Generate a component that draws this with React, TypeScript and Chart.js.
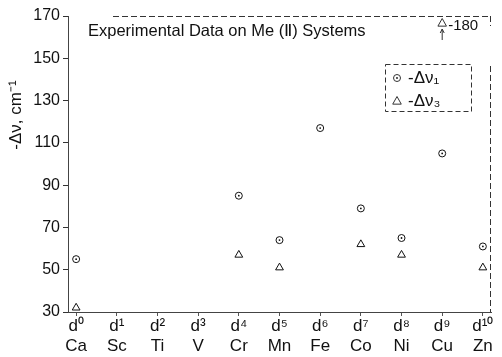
import React, { useEffect, useRef } from "react";
import { Chart, registerables } from "chart.js";

Chart.register(...registerables);

const elements = ["Ca", "Sc", "Ti", "V", "Cr", "Mn", "Fe", "Co", "Ni", "Cu", "Zn"];
const dConfigs = ["d⁰", "d¹", "d²", "d³", "d⁴", "d⁵", "d⁶", "d⁷", "d⁸", "d⁹", "d¹⁰"];
const deltaNu1: (number | null)[] = [55, null, null, null, 85, 64, 117, 79, 65, 105, 61];
const deltaNu3: (number | null)[] = [32, null, null, null, 57, 51, null, 62, 57, 180, 51];
const yTicks = [30, 50, 70, 90, 110, 130, 150, 170];

const Y_MIN = 30;
const Y_MAX = 170;
const FONT = "'Liberation Sans', Arial, sans-serif";

function triangle(ctx: CanvasRenderingContext2D, x: number, y: number, r: number) {
  ctx.beginPath();
  ctx.moveTo(x, y - r);
  ctx.lineTo(x + r * 0.95, y + r * 0.7);
  ctx.lineTo(x - r * 0.95, y + r * 0.7);
  ctx.closePath();
  ctx.stroke();
}

const decor = {
  id: "decor",
  afterDraw(chart: any) {
    const ctx: CanvasRenderingContext2D = chart.ctx;
    const { left, right, top, bottom } = chart.chartArea;
    const xs = chart.scales.x;
    ctx.save();
    // top and right frame
    ctx.strokeStyle = "#333";
    ctx.lineWidth = 1;
    ctx.setLineDash([6, 3]);
    ctx.beginPath();
    ctx.moveTo(left + 45, top + 0.5);
    ctx.lineTo(right, top + 0.5);
    ctx.stroke();
    ctx.beginPath();
    ctx.moveTo(right - 0.5, top);
    ctx.lineTo(right - 0.5, top + 10);
    ctx.moveTo(right - 0.5, top + 50);
    ctx.lineTo(right - 0.5, bottom);
    ctx.stroke();
    ctx.setLineDash([]);

    // title
    ctx.fillStyle = "#111";
    ctx.font = `16.5px ${FONT}`;
    ctx.textBaseline = "middle";
    ctx.textAlign = "left";
    ctx.fillText("Experimental Data on Me (Ⅱ) Systems", 88, 31);

    // y-axis title
    ctx.save();
    ctx.translate(16, 115);
    ctx.rotate(-Math.PI / 2);
    ctx.textAlign = "center";
    ctx.font = `17px ${FONT}`;
    ctx.fillText("-Δν, cm⁻¹", 0, 0);
    ctx.restore();

    // legend
    ctx.strokeStyle = "#333";
    ctx.setLineDash([5, 3]);
    ctx.strokeRect(385.5, 64.5, 86, 47);
    ctx.setLineDash([]);
    ctx.lineWidth = 1;
    ctx.beginPath();
    ctx.arc(397, 78, 3.5, 0, Math.PI * 2);
    ctx.stroke();
    ctx.beginPath();
    ctx.arc(397, 78, 0.9, 0, Math.PI * 2);
    ctx.fill();
    triangle(ctx, 397, 101, 4.5);
    ctx.font = `17px ${FONT}`;
    ctx.textAlign = "left";
    ctx.fillText("-Δν₁", 408, 78);
    ctx.fillText("-Δν₃", 408, 101);

    // centre dots of circles
    const m0 = chart.getDatasetMeta(0);
    m0.data.forEach((p: any) => {
      if (p.skip) return;
      ctx.beginPath();
      ctx.arc(p.x, p.y, 0.9, 0, Math.PI * 2);
      ctx.fill();
    });

    // off-scale points
    deltaNu3.forEach((v, i) => {
      if (v == null || v <= Y_MAX) return;
      const x = xs.getPixelForValue(i);
      triangle(ctx, x, top + 7, 4.5);
      ctx.beginPath();
      ctx.moveTo(x, top + 24);
      ctx.lineTo(x, top + 13);
      ctx.moveTo(x - 2, top + 17);
      ctx.lineTo(x, top + 13);
      ctx.lineTo(x + 2, top + 17);
      ctx.stroke();
      ctx.font = `15px ${FONT}`;
      ctx.fillText("-" + v, x + 6, top + 10);
    });
    ctx.restore();
  },
};

export default function App() {
  const ref = useRef<HTMLCanvasElement>(null);
  useEffect(() => {
    document.body.style.margin = "0";
    const pts = (arr: (number | null)[]) =>
      arr.map((v, i) => ({ x: i, y: v == null || v > Y_MAX ? null : v }));
    const chart = new Chart(ref.current!, {
      type: "scatter",
      data: {
        datasets: [
          {
            label: "-Δν1",
            data: pts(deltaNu1) as any,
            pointStyle: "circle",
            radius: 3.5,
            borderColor: "#111",
            backgroundColor: "#fff",
            borderWidth: 1,
          },
          {
            label: "-Δν3",
            data: pts(deltaNu3) as any,
            pointStyle: "triangle",
            radius: 4.5,
            borderColor: "#111",
            backgroundColor: "#fff",
            borderWidth: 1,
          },
        ],
      },
      options: {
        animation: false,
        responsive: false,
        layout: { padding: { top: 16, right: 11, left: 0, bottom: 0 } },
        plugins: { legend: { display: false }, tooltip: { enabled: false } },
        scales: {
          x: {
            type: "linear",
            min: -0.2,
            max: 10.2,
            afterBuildTicks: (s: any) => {
              s.ticks = elements.map((_, i) => ({ value: i }));
            },
            afterFit: (s: any) => {
              s.height = 45;
            },
            grid: { display: true, drawOnChartArea: false, drawTicks: true, tickLength: 4, color: "#555" },
            border: { display: true, color: "#444", dash: [3, 3] },
            ticks: {
              autoSkip: false,
              maxRotation: 0,
              padding: 0,
              color: "#111",
              font: { family: FONT, size: 17, lineHeight: 1.2 },
              callback: (v: any) => [dConfigs[v], elements[v]],
            },
          },
          y: {
            min: Y_MIN,
            max: Y_MAX,
            afterBuildTicks: (s: any) => {
              s.ticks = yTicks.map((v) => ({ value: v }));
            },
            afterFit: (s: any) => {
              s.width = 68;
            },
            grid: { display: true, drawOnChartArea: false, drawTicks: true, tickLength: 5, color: "#333" },
            border: { display: true, color: "#444", dash: [2, 3] },
            ticks: {
              padding: 3,
              color: "#111",
              font: { family: FONT, size: 16 },
            },
          },
        },
      },
      plugins: [decor],
    });
    return () => chart.destroy();
  }, []);
  return (
    <div style={{ position: "absolute", left: 0, top: 0, width: 502, height: 357, background: "#fff" }}>
      <canvas ref={ref} width={502} height={357} />
    </div>
  );
}
